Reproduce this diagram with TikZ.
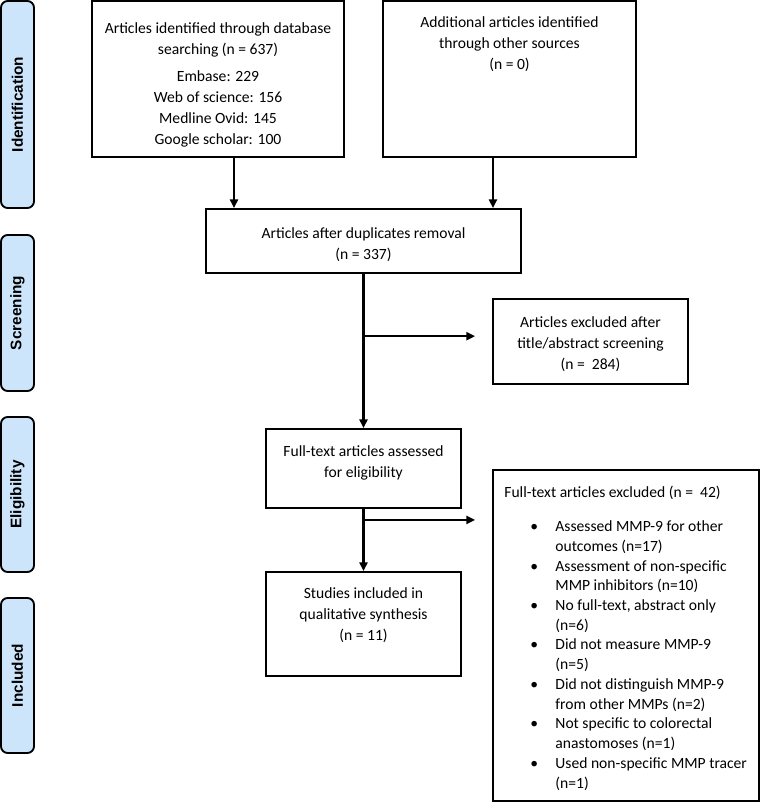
\documentclass[tikz,border=0pt]{standalone}
\usepackage{fontspec}
\setmainfont{Carlito}
\newfontfamily\stagefont{Liberation Sans}
\usepackage{tikz}
\usetikzlibrary{positioning, arrows.meta}
\definecolor{stageblue}{RGB}{205,229,250}

\tikzset{
  box/.style={draw, line width=1.4pt, inner sep=0pt, align=center},
  boxtext/.style={anchor=north, inner sep=0pt, align=center},
  stage/.style={draw, line width=1.4pt, fill=stageblue, rounded corners=5pt, rotate=90,
    minimum height=24.75pt, inner sep=0pt, font=\stagefont\bfseries\fontsize{11.5pt}{14pt}\selectfont},
  flow/.style={-{Triangle[length=6.5pt, width=6pt]}, line width=1.6pt},
}

\begin{document}
\begin{tikzpicture}[x=0.75pt, y=-0.75pt, font=\fontsize{11.7pt}{15.75pt}\selectfont]
        \useasboundingbox (0,0) rectangle (763,802);

        % Stages
        \node[stage, minimum width=155.25pt] (sIdent) at (17.5,104.5) {Identification};
        \node[stage, minimum width=117pt] (sScreen) at (17.5,313) {Screening};
        \node[stage, minimum width=116.25pt] (sElig) at (17.5,494.5) {Eligibility};
        \node[stage, minimum width=116.25pt] (sIncl) at (17.5,675.5) {Included};

        % Boxes
        \node[box, minimum width=189pt, minimum height=117pt] (db) at (218,79) {};
        \node[boxtext] (dbText) at ([yshift=-16.5pt]db.north)
            {Articles identified through database\\searching (n = 637)\\[5pt]Embase: 229\\Web of science: 156\\Medline Ovid: 145\\Google scholar: 100};
        \node[box, minimum width=189.75pt, minimum height=117pt] (other) at (509.5,79) {};
        \node[boxtext] (otherText) at ([yshift=-12.5pt]other.north)
            {Additional articles identified\\through other sources\\(n = 0)};
        \node[box, minimum width=236.25pt, minimum height=48pt] (dup) at (363.5,241)
            {\rule{0pt}{13pt}Articles after duplicates removal\\(n = 337)};
        \node[box, minimum width=146.25pt, minimum height=63.75pt] (scrEx) at (590.5,341.5)
            {\rule{0pt}{12pt}Articles excluded after\\title/abstract screening\\(n = \ 284)};
        \node[box, minimum width=146.25pt, minimum height=59.25pt] (full) at (363.5,468.5) {};
        \node[boxtext] (fullText) at ([yshift=-13pt]full.north)
            {Full-text articles assessed\\for eligibility};
        \node[box, minimum width=146.25pt, minimum height=78pt] (incl) at (363.5,624) {};
        \node[boxtext] (inclText) at ([yshift=-12.5pt]incl.north)
            {Studies included in\\qualitative synthesis\\(n = 11)};
        \node[box, minimum width=199.5pt, minimum height=248.25pt] (fullEx) at (626,635.5) {};
        \node[anchor=north west, inner sep=0pt, font=\fontsize{11.7pt}{14.8pt}\selectfont] (fullExText)
            at ([xshift=9pt, yshift=-11pt]fullEx.north west) {%
            \begin{tabular}{@{\hspace{19.5pt}}l@{\hspace{13pt}}l@{}}
            \multicolumn{2}{@{}l@{}}{Full-text articles excluded (n = \ 42)}\\[10.5pt]
            \textbullet & Assessed MMP-9 for other\\
                        & outcomes (n=17)\\
            \textbullet & Assessment of non-specific\\
                        & MMP inhibitors (n=10)\\
            \textbullet & No full-text, abstract only\\
                        & (n=6)\\
            \textbullet & Did not measure MMP-9\\
                        & (n=5)\\
            \textbullet & Did not distinguish MMP-9\\
                        & from other MMPs (n=2)\\
            \textbullet & Not specific to colorectal\\
                        & anastomoses (n=1)\\
            \textbullet & Used non-specific MMP tracer\\
                        & (n=1)
            \end{tabular}};

        % Arrows
        \coordinate (dbOut) at ([xshift=12pt]db.south);
        \coordinate (otherOut) at ([xshift=-12.4pt]other.south);
        \draw[flow] (dbOut) -- (dbOut |- dup.north);
        \draw[flow] (otherOut) -- (otherOut |- dup.north);
        \draw[flow] (dup) -- (full);
        \coordinate (split1) at (dup.south |- scrEx.west);
        \draw[flow] ([yshift=4pt]split1) -- ([xshift=-12.75pt, yshift=4pt]scrEx.west);
        \draw[flow] (full) -- (incl);
        \coordinate (split2) at ([yshift=-8.25pt]full.south);
        \coordinate (split2End) at (split2 -| fullEx.west);
        \draw[flow] (split2) -- ([xshift=-12.75pt]split2End);
    \end{tikzpicture}
\end{document}
